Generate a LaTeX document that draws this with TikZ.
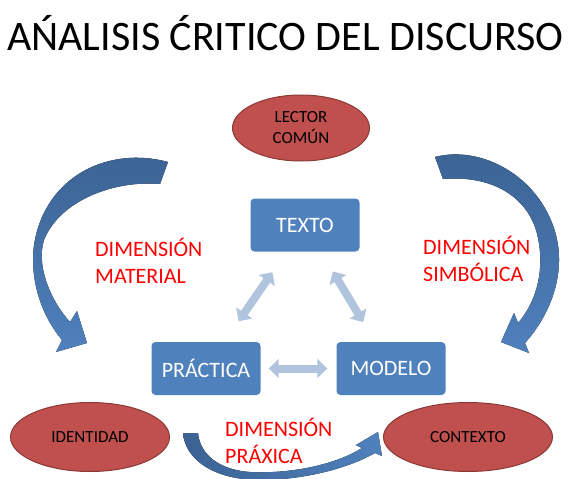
\documentclass[tikz,border=0pt]{standalone}
\usepackage{fontspec}
\setmainfont{Carlito}
\usetikzlibrary{shapes.geometric,arrows.meta}
\definecolor{boxblue}{HTML}{4F81BD}
\definecolor{darkblue}{HTML}{3B6292}
\definecolor{paleblue}{HTML}{B0C4DE}
\definecolor{ovalred}{HTML}{C0504D}
\definecolor{ovaledge}{HTML}{8C3836}
\begin{document}
\begin{tikzpicture}[x=1pt,y=-1pt,
  caja/.style={rectangle, rounded corners=4pt, fill=boxblue, text=white, minimum width=109pt, minimum height=53pt, font=\fontsize{22}{26}\selectfont},
  ovalo/.style={ellipse, fill=ovalred, draw=ovaledge, line width=1pt, minimum width=150pt, minimum height=69pt, inner sep=0pt, align=center, font=\fontsize{17}{21}\selectfont},
  dimension/.style={text=red, align=left, inner sep=0pt, font=\fontsize{22}{27}\selectfont},
  flechaclara/.style={paleblue, line width=8pt, {Triangle[length=10pt,width=19pt]}-{Triangle[length=10pt,width=19pt]}},
  flechagrande/.style={top color=darkblue, bottom color=boxblue}]
\useasboundingbox (0,0) rectangle (568,479);
\node[anchor=base, font=\fontsize{42}{48}\selectfont] (titulo) at (285.5,50) {AŃALISIS ĆRITICO DEL DISCURSO};
\node[ovalo, minimum width=137pt, minimum height=66pt] (lector) at (301,128) {LECTOR\\COMÚN};
\node[ovalo, minimum width=159pt] (identidad) at (90,437) {IDENTIDAD};
\node[ovalo, minimum width=169pt] (contexto) at (468,437) {CONTEXTO};
\node[caja] (texto) at (305,225) {TEXTO};
\node[caja] (practica) at (206,368.5) {PRÁCTICA};
\node[caja] (modelo) at (391,368.5) {MODELO};
\draw[flechaclara, shorten <=8pt, shorten >=9pt] (practica) -- (modelo);
\draw[flechaclara, shorten <=25pt, shorten >=25pt] (practica) -- (texto);
\draw[flechaclara, shorten <=23pt, shorten >=23pt] (modelo) -- (texto);
\fill[flechagrande] (168,162) .. controls (110,146) and (45,175) .. (34,245)
  .. controls (29,285) and (45,320) .. (62,340) -- (56,352) -- (87,343) -- (77,311) -- (70,322)
  .. controls (50,300) and (36,265) .. (44,240) .. controls (60,200) and (115,180) .. (160,184) -- cycle;
\fill[flechagrande] (435,157) .. controls (480,145) and (540,175) .. (556,235)
  .. controls (566,275) and (550,315) .. (525,343) -- (529,353) -- (501,342) -- (514,313) -- (518,323)
  .. controls (538,300) and (546,265) .. (536,230) .. controls (525,195) and (490,175) .. (443,179) -- cycle;
\fill[left color=darkblue, right color=boxblue] (183,433) .. controls (185,460) and (215,480) .. (260,480)
  .. controls (300,480) and (345,470) .. (375,453) -- (382,456) -- (378,432) -- (356,445) -- (362,448)
  .. controls (335,465) and (290,474) .. (250,472) .. controls (220,470) and (200,455) .. (198,433) -- cycle;
\node[dimension, anchor=base west] (material) at (95,283) {DIMENSIÓN\\MATERIAL};
\node[dimension, anchor=base west] (simbolica) at (423,281) {DIMENSIÓN\\SIMBÓLICA};
\node[dimension, anchor=base west] (praxica) at (225,463) {DIMENSIÓN\\PRÁXICA};
\end{tikzpicture}
\end{document}
